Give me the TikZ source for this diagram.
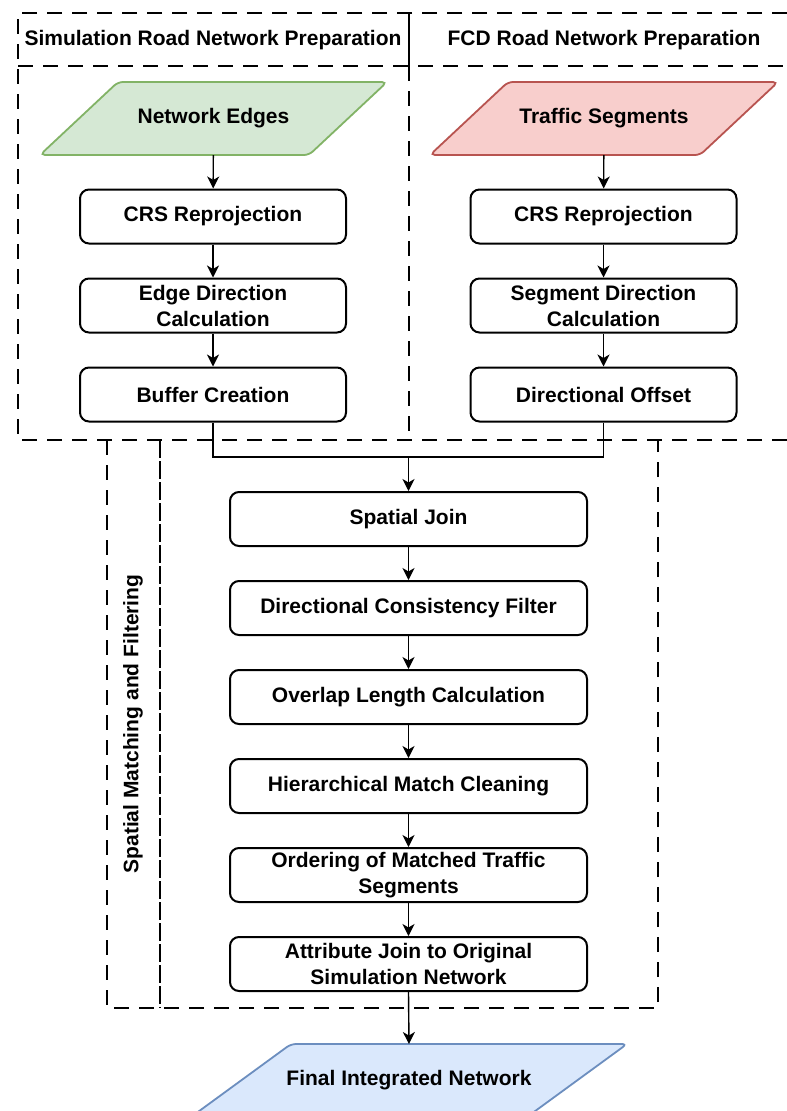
\documentclass[tikz,border=0pt]{standalone}
\usepackage{fontspec}
\setmainfont{Liberation Sans}
\usetikzlibrary{arrows.meta,backgrounds}

\definecolor{gfill}{HTML}{D5E8D4}
\definecolor{gline}{HTML}{82B366}
\definecolor{rfill}{HTML}{F8CECC}
\definecolor{rline}{HTML}{B85450}
\definecolor{bfill}{HTML}{DAE8FC}
\definecolor{bline}{HTML}{6C8EBF}

\tikzset{
  procbox/.style={draw, line width=2pt, rounded corners=9pt, fill=white,
    minimum width=266pt, minimum height=54pt, align=center, inner sep=2pt},
  widebox/.style={procbox, minimum width=357pt},
  datatext/.style={minimum height=73pt, inner sep=0pt, outer sep=0pt, align=center},
  datashape/.style={line width=1.8pt, rounded corners=5pt},
  flow/.style={line width=1.4pt, -{Stealth[length=12pt,width=12pt,inset=3.5pt]}},
  plain/.style={line width=1.4pt},
  pool/.style={line width=1.3pt, dash pattern=on 15pt off 10pt},
  lane/.style={line width=1.3pt, dash pattern=on 18pt off 3pt},
}

% parallelogram behind a data node: name, skew, fill, line
\newcommand{\dataoutline}[4]{%
  \draw[datashape, fill=#3, draw=#4] (#1.south west) -- ([xshift=#2]#1.north west)
    -- (#1.north east) -- ([xshift=-#2]#1.south east) -- cycle;}

\begin{document}
\begin{tikzpicture}[x=1pt, y=-1pt, font=\fontsize{21}{26}\selectfont\bfseries]
\useasboundingbox (0,0) rectangle (787,1111);
\clip (0,0) rectangle (787,1111);

% upper pools: simulation and FCD road network preparation
\draw[pool] (787,13) -- (18,13) -- (18,440) -- (787,440);
\draw[pool] (18,66) -- (787,66);
\draw[pool] (409,66) -- (409,440);
\draw[plain] (409,13) -- (409,66);
\node (tsim) at (213,40) {Simulation Road Network Preparation};
\node (tfcd) at (604,40) {FCD Road Network Preparation};

% lower pool: spatial matching and filtering
\draw[pool] (107,440) -- (107,1008) -- (658,1008) -- (658,440);
\draw[lane] (160,440) -- (160,1008);
\node[rotate=90] (tmatch) at (133,724) {Spatial Matching and Filtering};

% simulation network branch
\node[datatext, minimum width=347pt] (ne) at (213.5,118.5) {Network Edges};
\node[procbox] (crs1) at (213,216.5) {CRS Reprojection};
\node[procbox] (edir) at (213,305.5) {Edge Direction\\Calculation};
\node[procbox] (buf)  at (213,394.5) {Buffer Creation};

% FCD branch
\node[datatext, minimum width=348pt] (ts) at (604,118.5) {Traffic Segments};
\node[procbox] (crs2) at (603.5,216.5) {CRS Reprojection};
\node[procbox] (sdir) at (603.5,305.5) {Segment Direction\\Calculation};
\node[procbox] (off)  at (603.5,394.5) {Directional Offset};

% matching chain
\node[widebox] (sj)  at (408.5,519) {Spatial Join};
\node[widebox] (dcf) at (408.5,608) {Directional Consistency Filter};
\node[widebox] (olc) at (408.5,697) {Overlap Length Calculation};
\node[widebox] (hmc) at (408.5,786) {Hierarchical Match Cleaning};
\node[widebox] (ord) at (408.5,875) {Ordering of Matched Traffic\\Segments};
\node[widebox] (atj) at (408.5,964) {Attribute Join to Original\\Simulation Network};

\node[datatext, minimum width=436pt] (fin) at (409,1080.5) {Final Integrated Network};

\begin{scope}[on background layer]
  \fill[white] (0,0) rectangle (787,1111);
  \dataoutline{ne}{78pt}{gfill}{gline}
  \dataoutline{ts}{78pt}{rfill}{rline}
  \dataoutline{fin}{100pt}{bfill}{bline}
\end{scope}

% connectors
\draw[flow] (ne) -- (crs1);
\draw[flow] (crs1) -- (edir);
\draw[flow] (edir) -- (buf);
\draw[flow] (ts) -- (crs2);
\draw[flow] (crs2) -- (sdir);
\draw[flow] (sdir) -- (off);

\coordinate (merge) at (408.5,457);
\draw[plain] (buf.south) |- (merge);
\draw[plain] (off.south) |- (merge);
\draw[flow] (merge) -- (sj.north);

\draw[flow] (sj) -- (dcf);
\draw[flow] (dcf) -- (olc);
\draw[flow] (olc) -- (hmc);
\draw[flow] (hmc) -- (ord);
\draw[flow] (ord) -- (atj);
\draw[flow] (atj.south) -- (fin.north);
\end{tikzpicture}
\end{document}
